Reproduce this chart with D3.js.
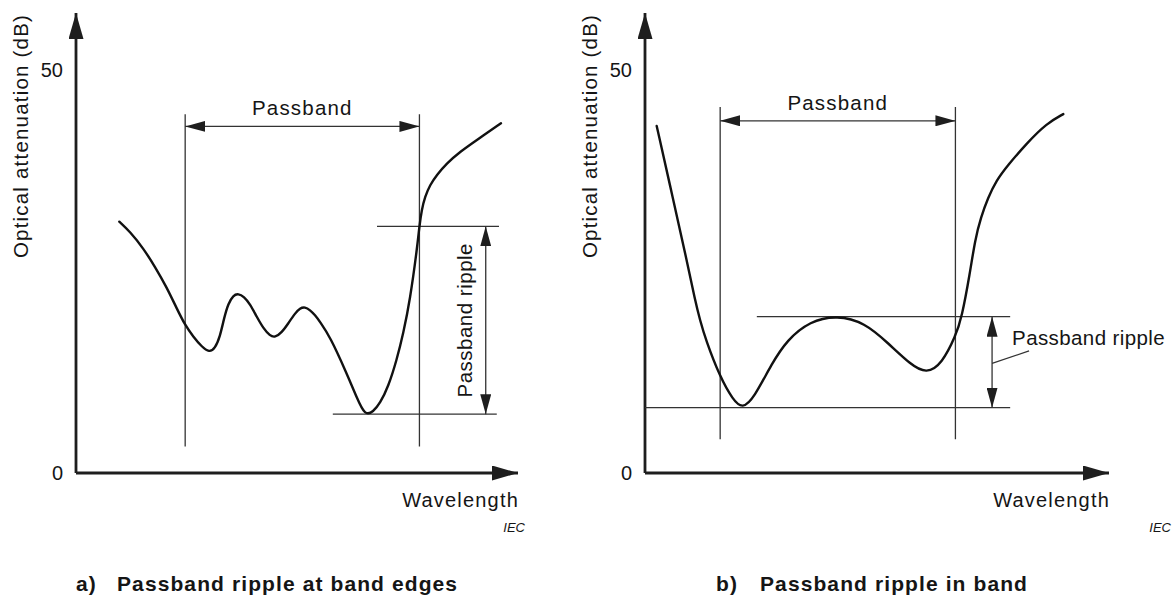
<!DOCTYPE html>
<html>
<head>
<meta charset="utf-8">
<script src="https://cdn.jsdelivr.net/npm/d3@7"></script>
<style>
  body { margin:0; background:#fff; }
  text { font-family:"Liberation Sans", Arial, sans-serif; fill:#151515; }
</style>
</head>
<body>
<div id="chart"></div>
<script>
// a) passband ripple at band edges  (wavelength in arbitrary units 0..100, attenuation dB)
const edgeWave = [9.80, 12.22, 15.23, 17.87, 20.52, 22.78, 24.66, 26.54, 28.44, 30.16,
                  31.45, 32.58, 33.48, 34.46, 35.59, 36.72, 38.01, 39.37, 40.88, 42.38,
                  43.89, 45.02, 46.54, 48.03, 49.55, 50.68, 51.81, 52.94, 54.07, 55.20,
                  57.47, 61.24, 63.51, 65.38, 67.26, 68.78, 70.66, 72.56, 74.05, 75.57,
                  77.22, 77.67, 78.21, 78.96, 80.09, 81.61, 83.87, 86.88, 90.66, 96.15]
const edgeAtt  = [31.18, 29.94, 27.88, 25.60, 23.04, 20.43, 18.36, 16.91, 15.67, 14.95,
                  15.47, 16.91, 19.19, 21.05, 22.06, 22.27, 21.87, 20.97, 19.39, 17.95,
                  17.02, 16.81, 17.41, 18.57, 19.81, 20.45, 20.61, 20.22, 19.60, 18.77,
                  16.91, 12.37, 9.37, 7.08, 7.61, 8.65, 10.71, 14.02, 17.33, 21.46,
                  28.08, 30.56, 32.63, 34.28, 35.73, 36.97, 38.42, 39.86, 41.32, 43.39]
const edgePassband = [24.7, 77.7]
const edgeRipple   = [7.3, 30.6]

// b) passband ripple in band
const bandWave = [2.52, 6.10, 8.99, 10.78, 11.85, 13.08, 16.16, 18.97, 21.01, 23.49,
                  27.26, 30.60, 35.56, 41.38, 47.33, 52.37, 57.33, 60.69, 64.01, 66.94,
                  68.25, 70.04, 71.12, 72.41, 73.92, 75.65, 78.23, 82.26, 86.57, 90.15]
const bandAtt  = [43.05, 33.87, 26.43, 21.46, 18.98, 16.55, 11.91, 9.06, 7.95, 9.31,
                  13.52, 16.50, 18.86, 19.55, 18.67, 16.13, 13.40, 12.31, 13.57, 17.00,
                  19.23, 24.81, 28.91, 31.76, 34.12, 36.23, 38.21, 40.91, 43.39, 44.53]
const bandPassband = [16.2, 66.9]
const bandRipple   = [8.1, 19.4]

const yTicks = [0, 50]
const yTitle = "Optical attenuation (dB)"
const xTitle = "Wavelength"
const passLabel = "Passband"
const rippleLabel = "Passband ripple"
const captions = [["a)", "Passband ripple at band edges"], ["b)", "Passband ripple in band"]]

function render(){
  let width = 1176, height = 596
  let svg = d3.select("#chart").append("svg").attr("width", width).attr("height", height)
  let yScale = d3.scaleLinear().domain([0, 50]).range([473, 70])

  let defs = svg.append("defs")
  function marker(id, len, half){
    defs.append("marker").attr("id", id)
      .attr("viewBox", `0 ${-half} ${len} ${2*half}`)
      .attr("refX", len).attr("refY", 0)
      .attr("markerWidth", len).attr("markerHeight", 2*half)
      .attr("markerUnits", "userSpaceOnUse")
      .attr("orient", "auto-start-reverse")
      .append("path").attr("d", `M0,${-half}L${len},0L0,${half}Z`).attr("fill", "#1e1e1e")
  }
  marker("big", 26, 7.5)
  marker("small", 20, 5.5)

  // layout of each panel
  let panels = [
    { x0:76, x1:518, wave:edgeWave, att:edgeAtt, pass:edgePassband, ripple:edgeRipple,
      passSpan:[3.3, 44.5], passArrow:43.0,
      lines:[[58.1, 95.2], [68.1, 95.7]], rippleX:92.7, vertical:true,
      iecX:525, capX:[76, 117] },
    { x0:645, x1:1109, wave:bandWave, att:bandAtt, pass:bandPassband, ripple:bandRipple,
      passSpan:[4.2, 45.4], passArrow:43.7,
      lines:[[0, 78.7], [24.1, 78.7]], rippleX:74.8, vertical:false,
      iecX:1171, capX:[716, 760] }
  ]

  panels.forEach((p, i) => {
    let xScale = d3.scaleLinear().domain([0, 100]).range([p.x0, p.x1])
    let g = svg.append("g")

    // axes with arrow heads
    g.append("line").attr("x1", p.x0).attr("y1", yScale(0)).attr("x2", p.x0).attr("y2", 13)
      .attr("stroke", "#1e1e1e").attr("stroke-width", 2.8).attr("marker-end", "url(#big)")
    g.append("line").attr("x1", p.x0).attr("y1", yScale(0)).attr("x2", xScale(100)).attr("y2", yScale(0))
      .attr("stroke", "#1e1e1e").attr("stroke-width", 2.8).attr("marker-end", "url(#big)")

    let yAxis = d3.axisLeft(yScale).tickValues(yTicks).tickSize(0).tickPadding(13)
    let yGroup = g.append("g").attr("transform", `translate(${p.x0},0)`).call(yAxis)
    yGroup.select(".domain").remove()
    yGroup.selectAll("text").attr("font-size", 20).attr("font-family", null).attr("fill", null)

    g.append("text").attr("transform", `translate(${p.x0 - 48},136) rotate(-90)`)
      .attr("text-anchor", "middle").attr("font-size", 20.5).attr("letter-spacing", 1.2)
      .text(yTitle)
    g.append("text").attr("x", xScale(100) + 1).attr("y", 507).attr("text-anchor", "end")
      .attr("font-size", 20).attr("letter-spacing", 1.2).text(xTitle)
    g.append("text").attr("x", p.iecX).attr("y", 532).attr("text-anchor", "end")
      .attr("font-size", 13).attr("font-style", "italic").text("IEC")

    // passband limits
    p.pass.forEach(w => {
      g.append("line").attr("x1", xScale(w)).attr("x2", xScale(w))
        .attr("y1", yScale(p.passSpan[0])).attr("y2", yScale(p.passSpan[1]))
        .attr("stroke", "#333").attr("stroke-width", 1.3)
    })
    g.append("line").attr("x1", xScale(p.pass[0])).attr("x2", xScale(p.pass[1]))
      .attr("y1", yScale(p.passArrow)).attr("y2", yScale(p.passArrow))
      .attr("stroke", "#333").attr("stroke-width", 1.3)
      .attr("marker-start", "url(#small)").attr("marker-end", "url(#small)")
    g.append("text").attr("x", xScale(d3.mean(p.pass))).attr("y", yScale(p.passArrow) - 11)
      .attr("text-anchor", "middle").attr("font-size", 20.5).attr("letter-spacing", 1.2).text(passLabel)

    // ripple levels
    p.ripple.forEach((r, k) => {
      g.append("line").attr("x1", xScale(p.lines[k][0])).attr("x2", xScale(p.lines[k][1]))
        .attr("y1", yScale(r)).attr("y2", yScale(r))
        .attr("stroke", "#333").attr("stroke-width", 1.3)
    })
    g.append("line").attr("x1", xScale(p.rippleX)).attr("x2", xScale(p.rippleX))
      .attr("y1", yScale(p.ripple[0])).attr("y2", yScale(p.ripple[1]))
      .attr("stroke", "#333").attr("stroke-width", 1.3)
      .attr("marker-start", "url(#small)").attr("marker-end", "url(#small)")
    if (p.vertical) {
      g.append("text")
        .attr("transform", `translate(${xScale(p.rippleX) - 14},${yScale(d3.mean(p.ripple))}) rotate(-90)`)
        .attr("text-anchor", "middle").attr("font-size", 20.5).attr("letter-spacing", 0.5).text(rippleLabel)
    } else {
      let ax = xScale(p.rippleX), ay = yScale(13.6)
      g.append("line").attr("x1", ax).attr("y1", ay).attr("x2", ax + 37).attr("y2", ay - 12.5)
        .attr("stroke", "#333").attr("stroke-width", 1.2)
      g.append("text").attr("x", ax + 20).attr("y", 345)
        .attr("font-size", 20.5).attr("letter-spacing", 0.4).text(rippleLabel)
    }

    // attenuation curve
    let line = d3.line()
      .x((d, k) => xScale(p.wave[k]))
      .y(d => yScale(d))
      .curve(d3.curveBasis)
    g.append("path").attr("d", line(p.att))
      .attr("fill", "none").attr("stroke", "#111").attr("stroke-width", 2.4)
      .attr("stroke-linejoin", "round").attr("stroke-linecap", "round")

    // caption
    g.append("text").attr("x", p.capX[0]).attr("y", 591).attr("font-size", 21).attr("font-weight", "bold")
      .attr("letter-spacing", 1.1).text(captions[i][0])
    g.append("text").attr("x", p.capX[1]).attr("y", 591).attr("font-size", 21).attr("font-weight", "bold")
      .attr("letter-spacing", 1.1).text(captions[i][1])
  })
}
render()
</script>
</body>
</html>
